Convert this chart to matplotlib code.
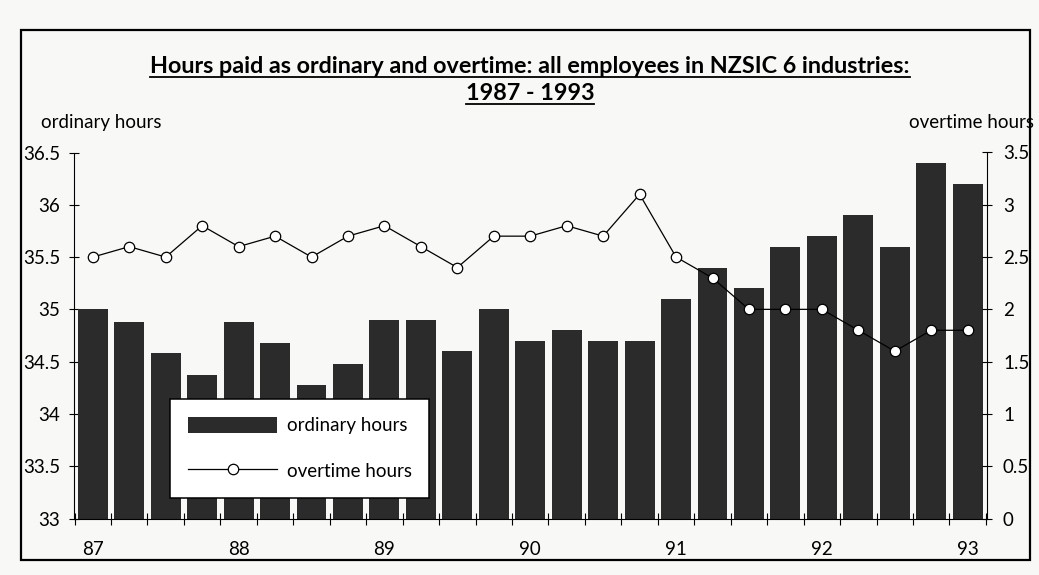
import numpy as np
import matplotlib.pyplot as plt
from matplotlib.patches import Rectangle
from matplotlib.lines import Line2D

plt.rcParams['font.family'] = ['Lato', 'DejaVu Sans']

# quarterly, March 1987 - March 1993
years = ['87', '88', '89', '90', '91', '92', '93']
ordinary = [35.0, 34.88, 34.58, 34.37, 34.88, 34.68, 34.28, 34.48, 34.9, 34.9, 34.6, 35.0,
            34.7, 34.8, 34.7, 34.7, 35.1, 35.4, 35.2, 35.6, 35.7, 35.9, 35.6, 36.4, 36.2]
overtime = [2.5, 2.6, 2.5, 2.8, 2.6, 2.7, 2.5, 2.7, 2.8, 2.6, 2.4, 2.7,
            2.7, 2.8, 2.7, 3.1, 2.5, 2.3, 2.0, 2.0, 2.0, 1.8, 1.6, 1.8, 1.8]

bar_col = '#2b2b2b'
W, H = 1039, 575

fig = plt.figure(figsize=(W / 100, H / 100), dpi=100, facecolor='#f8f8f6')
ax = fig.add_axes([73.5 / W, 1 - 518.5 / H, 913.5 / W, 366 / H])
ax.set_facecolor('none')

x = np.arange(len(ordinary))
ax.bar(x, np.array(ordinary) - 33, bottom=33, width=0.82, color=bar_col,
       label='ordinary hours', zorder=2)
ax.set_xlim(-0.53, len(x) - 0.47)
ax.set_ylim(33, 36.5)

ax2 = ax.twinx()
ax2.plot(x, overtime, '-o', color='black', lw=0.9, ms=7.5, mfc='white',
         mec='black', mew=0.9, label='overtime hours', zorder=3)
ax2.set_ylim(0, 3.5)

for a in (ax, ax2):
    for s in a.spines.values():
        s.set_linewidth(0.8)
    a.spines['top'].set_visible(False)
ax2.spines['left'].set_visible(False)
ax2.spines['bottom'].set_visible(False)
ax.spines['right'].set_visible(False)

yl = np.arange(33, 36.51, 0.5)
ax.set_yticks(yl, [f'{v:g}' for v in yl])
yr = np.arange(0, 3.51, 0.5)
ax2.set_yticks(yr, [f'{v:g}' for v in yr])
ax.tick_params(axis='y', direction='inout', length=7, width=0.8, pad=6, labelsize=13.5)
ax2.tick_params(axis='y', direction='inout', length=7, width=0.8, pad=8, labelsize=13.5)

ax.set_xticks(np.arange(-0.5, len(x), 1), [])
ax.set_xticks(np.arange(0, len(x), 4), years, minor=True)
ax.tick_params(axis='x', which='major', direction='inout', length=9, width=0.8)
ax.tick_params(axis='x', which='minor', length=0, pad=16, labelsize=13.5)

fig.text(41 / W, 1 - 122 / H, 'ordinary hours', fontsize=13.5, va='center', ha='left')
fig.text(1034 / W, 1 - 123 / H, 'overtime hours', fontsize=13.5, va='center', ha='right')

h1, l1 = ax.get_legend_handles_labels()
h2, l2 = ax2.get_legend_handles_labels()
leg = ax2.legend(h1 + h2, l1 + l2, loc='upper left', bbox_to_anchor=(0.106, 0.327),
                 borderaxespad=0, fontsize=13.5, handlelength=4.75, handleheight=1.0,
                 handletextpad=0.5, labelspacing=1.47, borderpad=0.95,
                 fancybox=False, framealpha=1, edgecolor='black')
leg.get_frame().set_linewidth(1.1)

# title, underlined
titles = ['Hours paid as ordinary and overtime: all employees in NZSIC 6 industries:',
          '1987 - 1993']
base = [73, 100]
fig.canvas.draw()
r = fig.canvas.get_renderer()
for txt, yb in zip(titles, base):
    t = fig.text(530 / W, 1 - yb / H, txt, fontsize=16.8, fontweight='bold',
                 ha='center', va='baseline')
    bb = t.get_window_extent(r)
    fig.add_artist(Line2D([bb.x0 / W, bb.x1 / W], [1 - (yb + 4) / H] * 2,
                          transform=fig.transFigure, color='black', lw=1.3))

# outer frame
fig.add_artist(Rectangle((21 / W, 1 - 560 / H), (1030 - 21) / W, (560 - 29.5) / H,
                         transform=fig.transFigure, fill=False, ec='black', lw=1.6))

fig.savefig('out.png', dpi=100, facecolor=fig.get_facecolor())
